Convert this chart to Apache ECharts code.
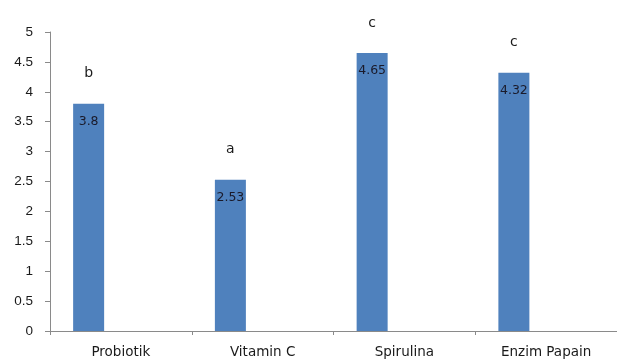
<!DOCTYPE html>
<html>
<head>
<meta charset="utf-8">
<script src="https://cdn.jsdelivr.net/npm/echarts@6/dist/echarts.min.js"></script>
<style>
html,body{margin:0;padding:0;background:#fff;}
#chart{width:617px;height:360px;}
</style>
</head>
<body>
<div id="chart"></div>
<script>
var categories = ['Probiotik', 'Vitamin C', 'Spirulina', 'Enzim Papain'];
var values = [3.8, 2.53, 4.65, 4.32];
var letters = ['b', 'a', 'c', 'c'];
var emptySeries = [null, null, null, null];
var yTicks = [0, 0.5, 1, 1.5, 2, 2.5, 3, 3.5, 4, 4.5, 5];

var chart = echarts.init(document.getElementById('chart'), null, {renderer: 'canvas'});
var axisColor = '#8a8a8a';
chart.setOption({
  animation: false,
  backgroundColor: '#ffffff',
  grid: {left: 50, right: 0, top: 32, bottom: 29, containLabel: false},
  xAxis: {
    type: 'category',
    data: categories,
    axisLine: {lineStyle: {color: axisColor, width: 1}},
    axisTick: {show: true, length: 4, alignWithLabel: false, lineStyle: {color: axisColor}},
    axisLabel: {color: '#1a1a1a', fontFamily: 'DejaVu Sans', fontSize: 13.5, margin: 14, interval: 0}
  },
  yAxis: {
    type: 'value',
    min: yTicks[0],
    max: yTicks[yTicks.length - 1],
    interval: 0.5,
    splitLine: {show: false},
    axisLine: {show: true, lineStyle: {color: axisColor, width: 1}},
    axisTick: {show: true, length: 5, lineStyle: {color: axisColor}},
    axisLabel: {color: '#1a1a1a', fontFamily: 'Liberation Sans', fontSize: 13.5, margin: 17,
      formatter: function (v) { return String(v); }}
  },
  series: [
    {
      type: 'bar',
      data: values,
      barWidth: 31,
      itemStyle: {color: '#4f81bd'},
      label: {
        show: true,
        position: 'insideTop',
        distance: 0,
        offset: [0, -70],
        formatter: function (p) {
          return '{l|' + letters[p.dataIndex] + '}\n{v|' + values[p.dataIndex] + '}';
        },
        rich: {
          l: {fontFamily: 'DejaVu Sans', fontSize: 14, color: '#1a1a1a', lineHeight: 80, align: 'center'},
          v: {fontFamily: 'DejaVu Sans', fontSize: 12.5, color: '#1a1a2a', lineHeight: 16, align: 'center'}
        }
      }
    },
    {
      type: 'bar',
      data: emptySeries,
      barWidth: 31,
      barGap: '108%',
      itemStyle: {color: '#c0504d'}
    }
  ]
});
</script>
</body>
</html>
